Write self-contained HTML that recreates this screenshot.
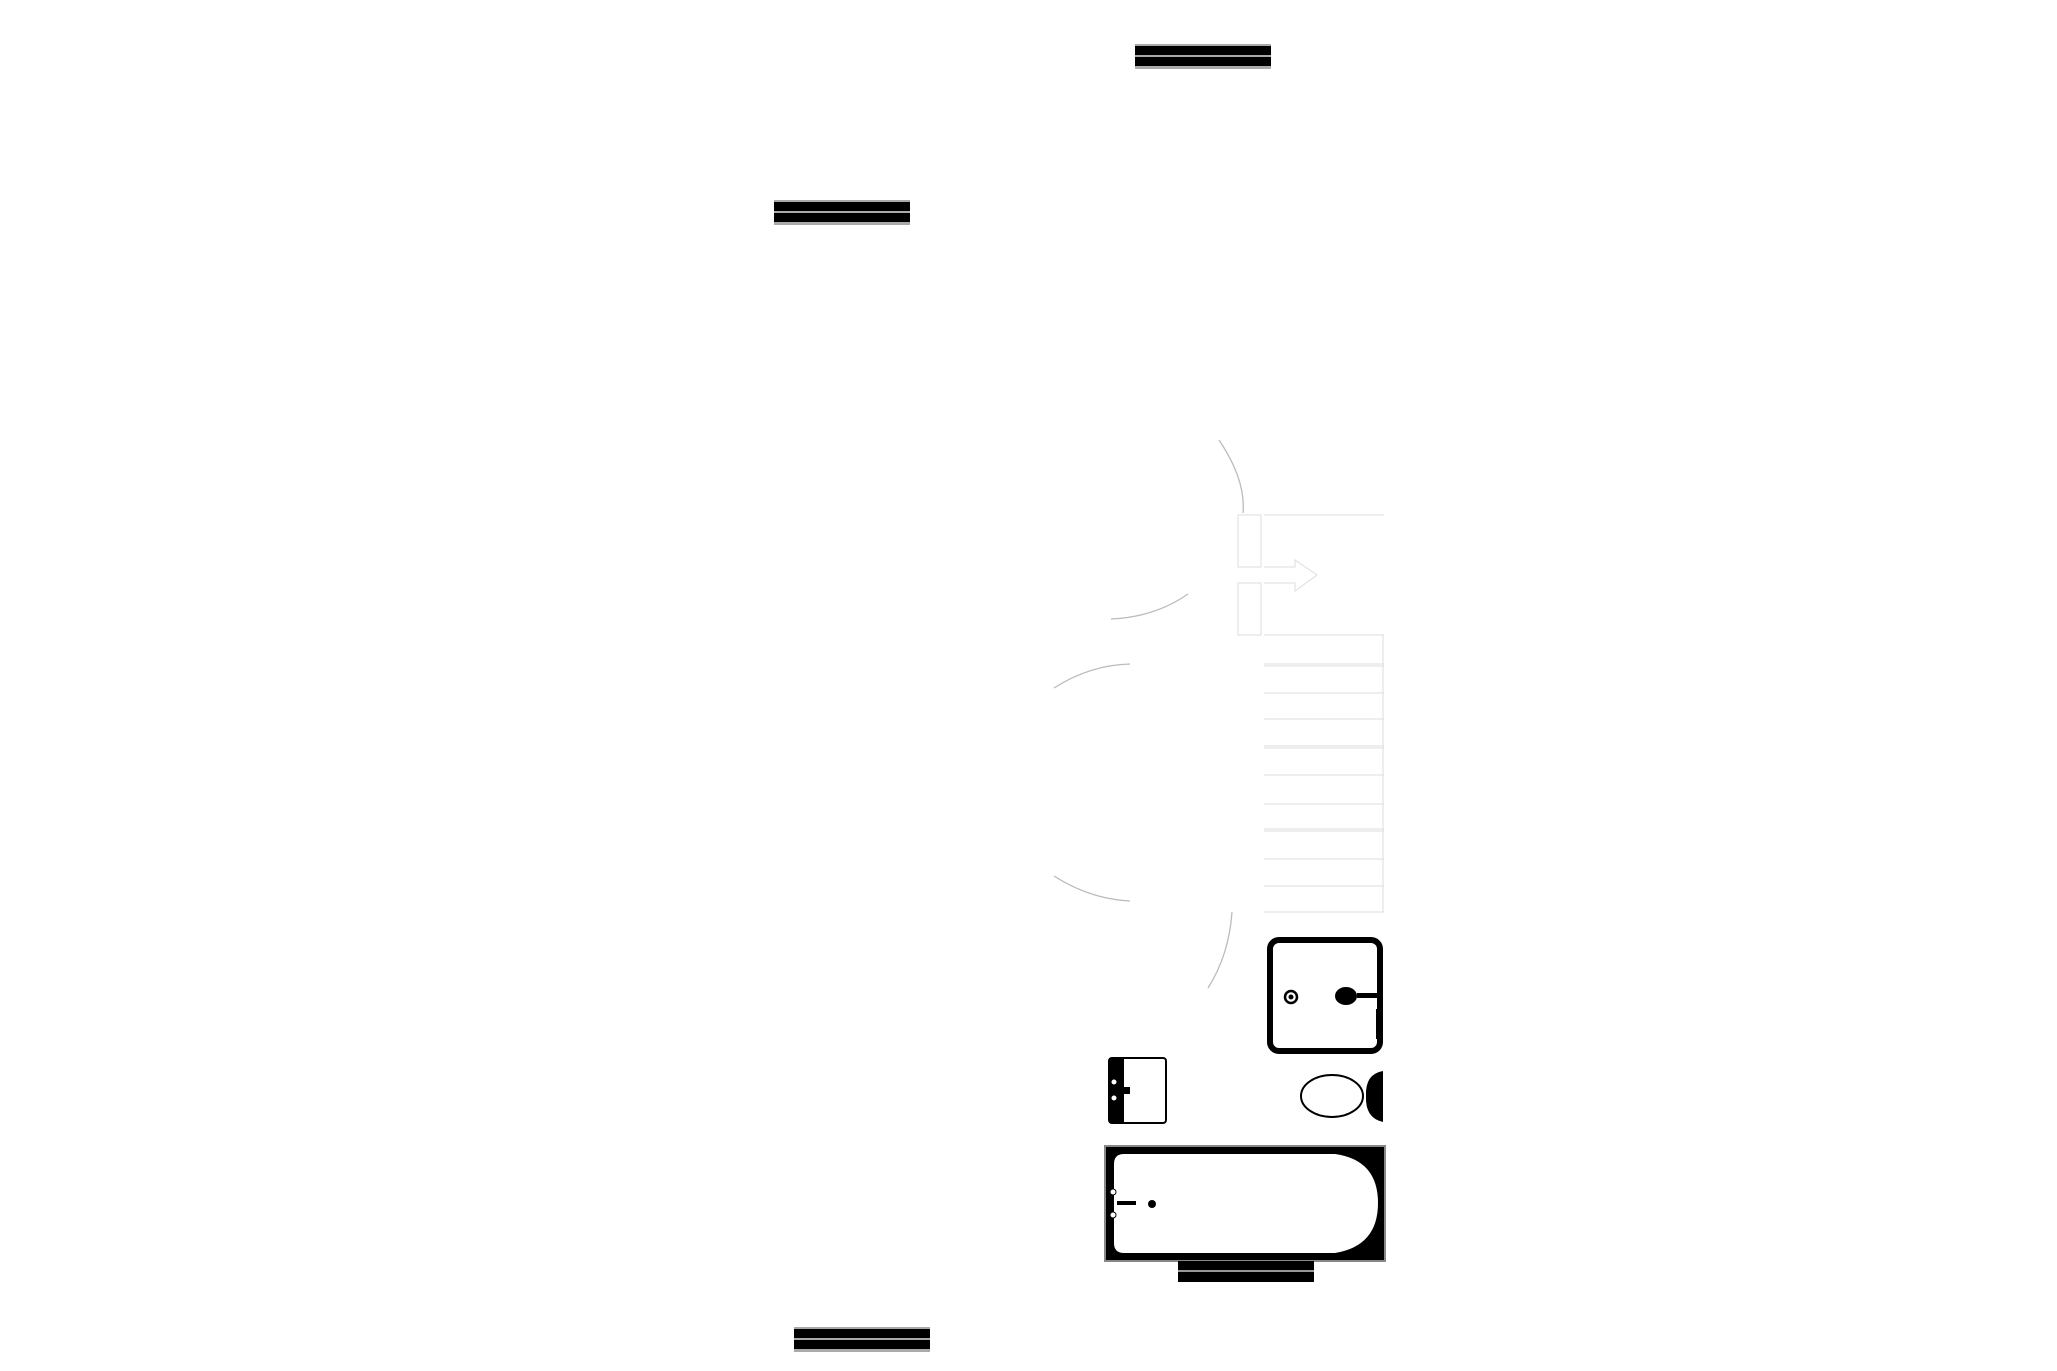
<!DOCTYPE html>
<html><head><style>html,body{margin:0;padding:0;background:#fff;}svg{display:block}</style></head>
<body>
<svg width="2057" height="1371" viewBox="0 0 2057 1371" xmlns="http://www.w3.org/2000/svg">
<defs>
<g id="bar">
<rect x="0" y="0" width="136" height="25" fill="#aaa"/>
<rect x="0" y="2" width="136" height="9" fill="#000"/>
<rect x="0" y="13" width="136" height="9" fill="#000"/>
</g>
</defs>
<use href="#bar" x="1135" y="44"/>
<use href="#bar" x="774" y="200"/>
<use href="#bar" x="794" y="1327"/>
<g fill="none" stroke="#bbb" stroke-width="1.3">
<path d="M1219 440 Q1246 480 1243 513"/>
<path d="M1111 619 Q1155 617 1188 594"/>
<path d="M1054 688 Q1090 665 1130 664"/>
<path d="M1054 876 Q1090 899 1130 901"/>
<path d="M1232 912 Q1229 955 1208 988"/>
</g>
<g fill="none" stroke="#ddd" stroke-width="1">
<rect x="1238" y="515" width="23" height="52"/>
<rect x="1238" y="583" width="23" height="52"/>
<path d="M1264 515H1384M1264 635H1384M1264 664H1384M1264 666H1384M1264 693H1384M1264 719H1384M1264 746H1384M1264 748H1384M1264 775H1384M1264 804H1384M1264 829H1384M1264 831H1384M1264 859H1384M1264 886H1384M1264 912H1384M1383 635V912"/>
<path d="M1264 567H1295V560L1317 575L1295 591V583H1264"/>
</g>
<rect x="1270" y="940" width="110" height="111" rx="9" fill="#fff" stroke="#000" stroke-width="6"/>
<circle cx="1291" cy="997" r="6" fill="none" stroke="#000" stroke-width="2.5"/>
<circle cx="1291" cy="997" r="2.5" fill="#000"/>
<ellipse cx="1346" cy="996" rx="11" ry="9" fill="#000"/>
<rect x="1357" y="993" width="26" height="5" fill="#000"/>
<rect x="1376" y="1009" width="7" height="30" fill="#000"/>
<rect x="1109" y="1058" width="57" height="65" rx="3" fill="#fff" stroke="#000" stroke-width="2"/>
<rect x="1109" y="1058" width="15" height="65" fill="#000"/>
<rect x="1118" y="1087" width="12" height="7" fill="#000"/>
<circle cx="1114" cy="1082" r="3" fill="#fff" stroke="#000"/>
<circle cx="1114" cy="1098" r="3" fill="#fff" stroke="#000"/>
<ellipse cx="1332" cy="1096" rx="31" ry="21" fill="#fff" stroke="#000" stroke-width="2"/>
<path d="M1383 1071V1122Q1365 1118 1366 1096Q1365 1074 1383 1071Z" fill="#000"/>
<rect x="1105" y="1146" width="280" height="115" fill="#000" stroke="#888" stroke-width="2"/>
<path d="M1124 1154H1335Q1378 1160 1378 1203Q1378 1246 1335 1253H1124Q1114 1253 1114 1243V1164Q1114 1154 1124 1154Z" fill="#fff"/>
<rect x="1117" y="1201" width="19" height="4" fill="#000"/>
<circle cx="1152" cy="1204" r="4" fill="#000"/>
<circle cx="1113" cy="1192" r="3" fill="#fff" stroke="#000"/>
<circle cx="1113" cy="1215" r="3" fill="#fff" stroke="#000"/>
<rect x="1178" y="1261" width="136" height="21" fill="#000"/>
<rect x="1178" y="1270" width="136" height="2" fill="#999"/>
</svg>
</body></html>
